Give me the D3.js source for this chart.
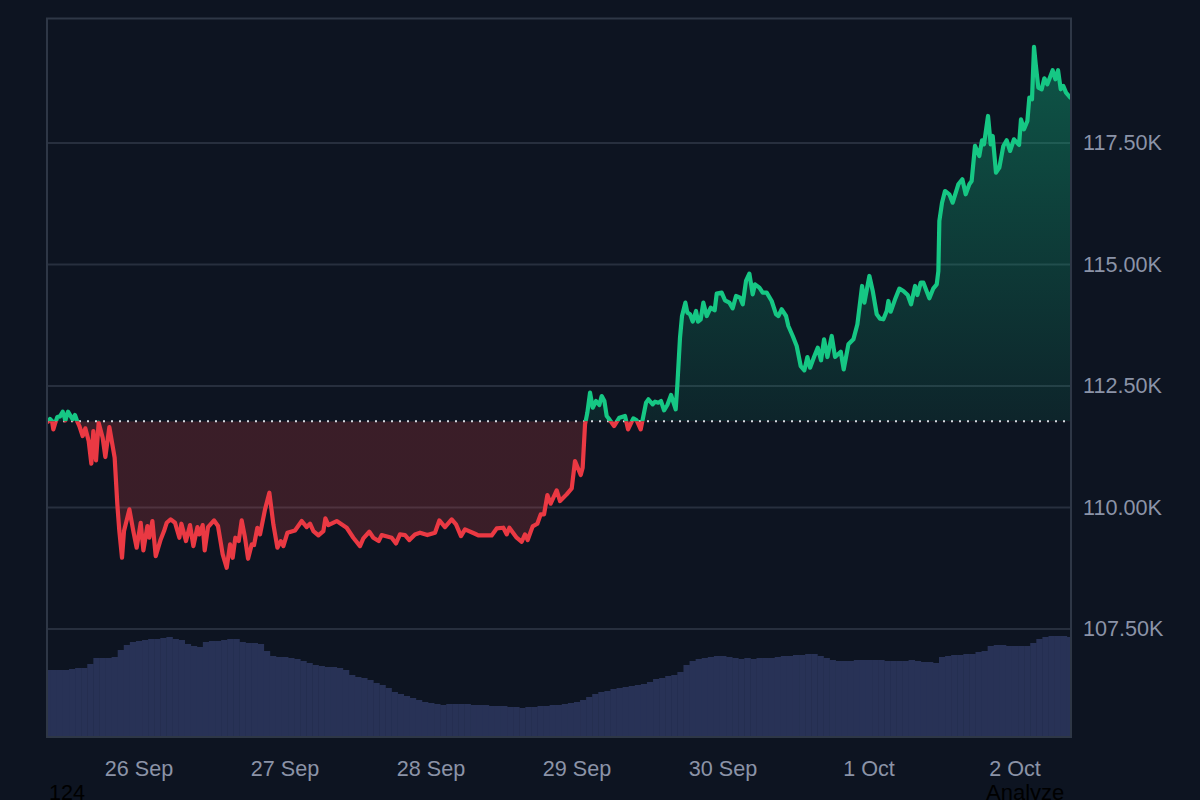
<!DOCTYPE html>
<html>
<head>
<meta charset="utf-8">
<script src="https://cdn.jsdelivr.net/npm/d3@7"></script>
<style>
html, body { margin: 0; background: #0d1421; overflow: hidden; }
svg { display: block; font-family: "Liberation Sans", Arial, sans-serif; }
</style>
</head>
<body>
<svg width="1200" height="800"></svg>
<script>
// hours counted from 26 Sep 00:00
const priceHours = [
-15.1,-14.63,-14.3,-14.08,-13.75,-13.42,-12.98,-12.54,-12.1,-11.67,-11.23,-10.9,-10.52,-10.13,-9.8,-9.26,-8.82,-8.27,-7.83,-7.5,-7.06,-6.63,-5.97,-5.53,-4.87,-4,-3.56,-3.23,-2.79,-2.46,-1.58,-0.93,-0.38,0.28,0.72,1.38,1.7,2.2,2.75,3.57,4.12,4.55,5.21,5.92,6.64,6.97,7.73,8.39,8.94,9.6,9.92,10.47,10.8,11.35,12.34,12.99,13.76,14.42,14.97,15.4,15.84,16.39,16.88,17.43,17.93,18.53,18.91,19.46,19.9,20.72,21.43,22.09,22.75,23.3,23.73,24.39,25.65,26.75,27.57,28.12,28.67,29.49,30.31,30.64,31.13,32.5,
34.14,35.23,36.33,36.88,37.86,38.52,39.4,39.89,41.53,42.25,42.9,43.73,44.44,45.37,46.19,47.4,48.66,49.37,50.3,51.4,52.11,52.93,53.59,55.23,55.78,57.97,58.8,59.89,60.44,60.88,62.08,62.91,63.45,63.89,64.71,65.48,66.03,66.58,67.13,67.67,68.66,69.21,70.3,71.13,71.67,72.61,72.93,73.32,73.7,74.14,74.58,75.13,75.67,76.06,76.5,76.88,77.32,78.09,78.96,79.89,80.39,81.26,81.81,82.47,83.35,83.73,84.44,84.83,85.37,85.81,86.31,86.85,87.46,88.22,
88.5,88.93,89.26,89.81,90.14,90.58,91.02,91.56,91.89,92.33,92.77,93.32,93.98,94.63,94.96,95.78,96.33,97.04,97.59,98.14,98.8,99.24,99.78,100.33,100.88,101.26,101.98,102.52,103.18,104,104.72,105.1,105.65,106.36,106.74,107.46,108.11,108.77,109.37,109.87,110.31,110.96,111.57,112.11,112.61,113.16,113.87,114.42,115.35,115.84,116.61,117.43,118.09,118.86,119.24,120.06,120.61,121.27,121.81,122.36,122.91,123.18,123.57,124.28,124.99,125.65,126.36,126.91,127.57,127.95,128.5,128.94,129.92,130.58,131.13,131.4,
131.56,132,132.49,133.2,133.75,134.68,135.34,135.89,136.49,136.87,137.42,138.13,138.57,138.9,139.56,140,140.33,140.87,141.42,142.08,142.63,143.18,143.83,144.66,144.98,145.48,146.03,146.35,146.79,147.12,147.4,147.83,148.38,148.82,149.31,150.19,150.63,151.07,151.51,151.94,152.38,153.2
];
const prices = [
111745,111821,111780,111608,111745,111862,111876,111972,111793,111972,111882,111814,111903,111766,111677,111471,111629,111368,110902,111574,110970,111745,111437,111039,111656,111025,110065,109516,108967,109516,109962,109516,109173,109687,109118,109619,109379,109722,109001,109344,109516,109687,109756,109687,109379,109667,109310,109639,109207,109598,109447,109639,109118,109598,109735,109619,109036,108761,109241,108967,109379,109310,109735,109379,108946,109241,109228,109584,109447,109962,110305,109653,109173,109310,109207,109481,109529,109722,109598,109667,109516,109427,109516,109777,109639,109722,
109585,109379,109207,109365,109502,109379,109310,109434,109379,109262,109447,109434,109331,109447,109482,109434,109482,109735,109598,109756,109653,109413,109550,109461,109427,109427,109571,109585,109447,109585,109379,109296,109447,109331,109612,109667,109859,109859,110257,110079,110353,110133,110271,110394,110957,110668,110819,111711,111951,112363,112054,112191,112109,112294,112191,111883,111814,111677,111848,111883,111608,111835,111794,111608,112157,112226,112123,112178,112157,112191,111999,112109,112315,112020,
112534,113494,113940,114215,114009,113975,113824,114043,113824,113872,114215,113940,114112,114057,114400,114421,114263,114215,114098,114352,114318,114180,114661,114812,114386,114592,114523,114421,114421,114249,113975,113940,114078,113940,113734,113529,113323,112911,112822,113096,112877,113096,113289,113028,113460,113096,113529,113096,113206,112843,113357,113460,113769,114558,114215,114764,114455,113975,113885,113872,114043,114249,114029,114283,114503,114455,114372,114180,114558,114372,114626,114626,114304,114510,114592,114866,
115894,116271,116511,116443,116271,116649,116752,116443,116649,116717,117438,117232,117554,117472,118055,117472,117643,116889,116992,117438,117554,117335,117575,117458,117986,117780,117952,118432,118398,119475,119118,118638,118604,118830,118707,118995,118810,118995,118604,118672,118535,118418
];
const baselinePrice = 111775;

// hourly volume in $bn, first bar at hour -15
const volumeStart = -15;
const volumes = [
33.5,33.5,33.5,33.5,34,34.5,34.5,36.5,39.5,39.5,39.5,40,43.5,46,47.5,48,48.5,49,49,49.5,50,49,48.5,46.5,45.5,45,47.5,48,48,48.5,49,49,47.5,47,47,46.5,43,40.5,40,40,39.5,39,38,37,36,35.5,35,35,34.5,33.5,31,30,29.5,28.5,27,26,24.5,22.5,21.5,20.5,19.5,18.5,17.5,17,16.5,16,16.5,16.5,16.5,16.5,16,16,16,15.5,15.5,15.5,15,15,14.5,15,15,15.5,15.5,16,16,16.5,17,17.5,18.5,20,21.5,22.5,23,24,24.5,25,25.5,26,26.5,27.5,29,29.5,30.5,31,32.5,36,38,39,39.5,40,40.5,40.5,40,39.5,39,39.5,39,39.5,39.5,39.5,40,40.5,40.5,41,41,41.5,41.5,40.5,39.5,38.5,38,38,38,38.5,38.5,38.5,38.5,38.5,38,38,38,38,38.5,38,37.5,37.5,37,40,40.5,41,41,41.5,41.5,42.5,43,45.5,46,46,45.5,45.5,45.5,45.5,47,49,50,50.5,50.5,50.5,50
];

const dayHours = [0, 24, 48, 72, 96, 120, 144];
const dayLabels = ["26 Sep", "27 Sep", "28 Sep", "29 Sep", "30 Sep", "1 Oct", "2 Oct"];
const priceTicks = [107500, 110000, 112500, 115000, 117500];

const left = 47, right = 1071, top_ = 18.5, bottom = 737;
const gridColor = "#272f3e", frameColor = "#2e3746", textColor = "#8b93a7";

const svg = d3.select("svg");

const x = d3.scaleLinear().domain([-15.12, 153.2]).range([left, right]);
const y = d3.scaleLinear().domain([105280, 120070]).range([bottom, 18]);
const yVol = d3.scaleLinear().domain([0, 54]).range([bottom, 629]);
const baseY = y(baselinePrice);

const points = priceHours.map((h, i) => ({ h: h, p: prices[i] }));

const defs = svg.append("defs");
defs.append("clipPath").attr("id", "above").append("rect")
    .attr("x", left).attr("y", top_).attr("width", right - left).attr("height", baseY - top_);
defs.append("clipPath").attr("id", "below").append("rect")
    .attr("x", left).attr("y", baseY).attr("width", right - left).attr("height", bottom - baseY);

const upGrad = defs.append("linearGradient").attr("id", "upGrad")
    .attr("gradientUnits", "userSpaceOnUse").attr("x1", 0).attr("x2", 0).attr("y1", 46).attr("y2", baseY);
upGrad.append("stop").attr("offset", 0).attr("stop-color", "#10b981").attr("stop-opacity", 0.4);
upGrad.append("stop").attr("offset", 1).attr("stop-color", "#10b981").attr("stop-opacity", 0.1);

const downGrad = defs.append("linearGradient").attr("id", "downGrad")
    .attr("gradientUnits", "userSpaceOnUse").attr("x1", 0).attr("x2", 0).attr("y1", baseY).attr("y2", 570);
downGrad.append("stop").attr("offset", 0).attr("stop-color", "#ef4444").attr("stop-opacity", 0.2);
downGrad.append("stop").attr("offset", 1).attr("stop-color", "#ef4444").attr("stop-opacity", 0.2);

// grid
svg.append("g").selectAll("line")
    .data(priceTicks)
    .enter().append("line")
    .attr("x1", left).attr("x2", right)
    .attr("y1", d => y(d)).attr("y2", d => y(d))
    .attr("stroke", gridColor).attr("stroke-width", 2);

// volume bars
const barW = x(1) - x(0);
svg.append("g").selectAll("rect")
    .data(volumes)
    .enter().append("rect")
    .attr("x", (d, i) => Math.max(left, x(volumeStart + i) - barW / 2))
    .attr("width", (d, i) => Math.min(barW + 0.4, right - Math.max(left, x(volumeStart + i) - barW / 2)))
    .attr("y", d => yVol(d))
    .attr("height", d => bottom - yVol(d))
    .attr("fill", "#283256");

// price areas
const area = d3.area().x(d => x(d.h)).y0(baseY).y1(d => y(d.p));
const line = d3.line().x(d => x(d.h)).y(d => y(d.p));

svg.append("path").datum(points).attr("d", area)
    .attr("fill", "url(#upGrad)").attr("clip-path", "url(#above)");
svg.append("path").datum(points).attr("d", area)
    .attr("fill", "url(#downGrad)").attr("clip-path", "url(#below)");

// baseline
svg.append("line")
    .attr("x1", left).attr("x2", right)
    .attr("y1", baseY).attr("y2", baseY)
    .attr("stroke", "#d5d9e0").attr("stroke-width", 2)
    .attr("stroke-dasharray", "2 6");

svg.append("path").datum(points).attr("d", line)
    .attr("fill", "none").attr("stroke", "#16c784").attr("stroke-width", 4.2)
    .attr("stroke-linejoin", "round").attr("clip-path", "url(#above)");
svg.append("path").datum(points).attr("d", line)
    .attr("fill", "none").attr("stroke", "#ea3943").attr("stroke-width", 4.2)
    .attr("stroke-linejoin", "round").attr("clip-path", "url(#below)");

// frame
svg.append("path")
    .attr("d", `M${left},${bottom}V${top_}H${right}V${bottom}`)
    .attr("fill", "none").attr("stroke", frameColor).attr("stroke-width", 2);
svg.append("line")
    .attr("x1", left - 1).attr("x2", right + 1).attr("y1", bottom).attr("y2", bottom)
    .attr("stroke", frameColor).attr("stroke-width", 2);

// axes
const xAxis = d3.axisBottom(x)
    .tickValues(dayHours)
    .tickFormat((d, i) => dayLabels[i])
    .tickSize(0).tickPadding(24);
const xg = svg.append("g").attr("transform", `translate(-0.5,${bottom})`).call(xAxis);

const yAxis = d3.axisRight(y)
    .tickValues(priceTicks)
    .tickFormat(d => (d / 1000).toFixed(2) + "K")
    .tickSize(0).tickPadding(12);
const yg = svg.append("g").attr("transform", `translate(${right},0)`).call(yAxis);

[xg, yg].forEach(g => {
    g.select(".domain").remove();
    g.selectAll("text")
        .attr("fill", textColor)
        .attr("font-family", '"Liberation Sans", Arial, sans-serif')
        .attr("font-size", 21.6);
});

// leftover page text cut by the bottom edge
svg.append("text").attr("x", 49).attr("y", 800)
    .attr("font-size", 21.6).attr("fill", "#000").text("124");
svg.append("text").attr("x", 986).attr("y", 800)
    .attr("font-size", 22).attr("fill", "#000").text("Analyze");
</script>
</body>
</html>
